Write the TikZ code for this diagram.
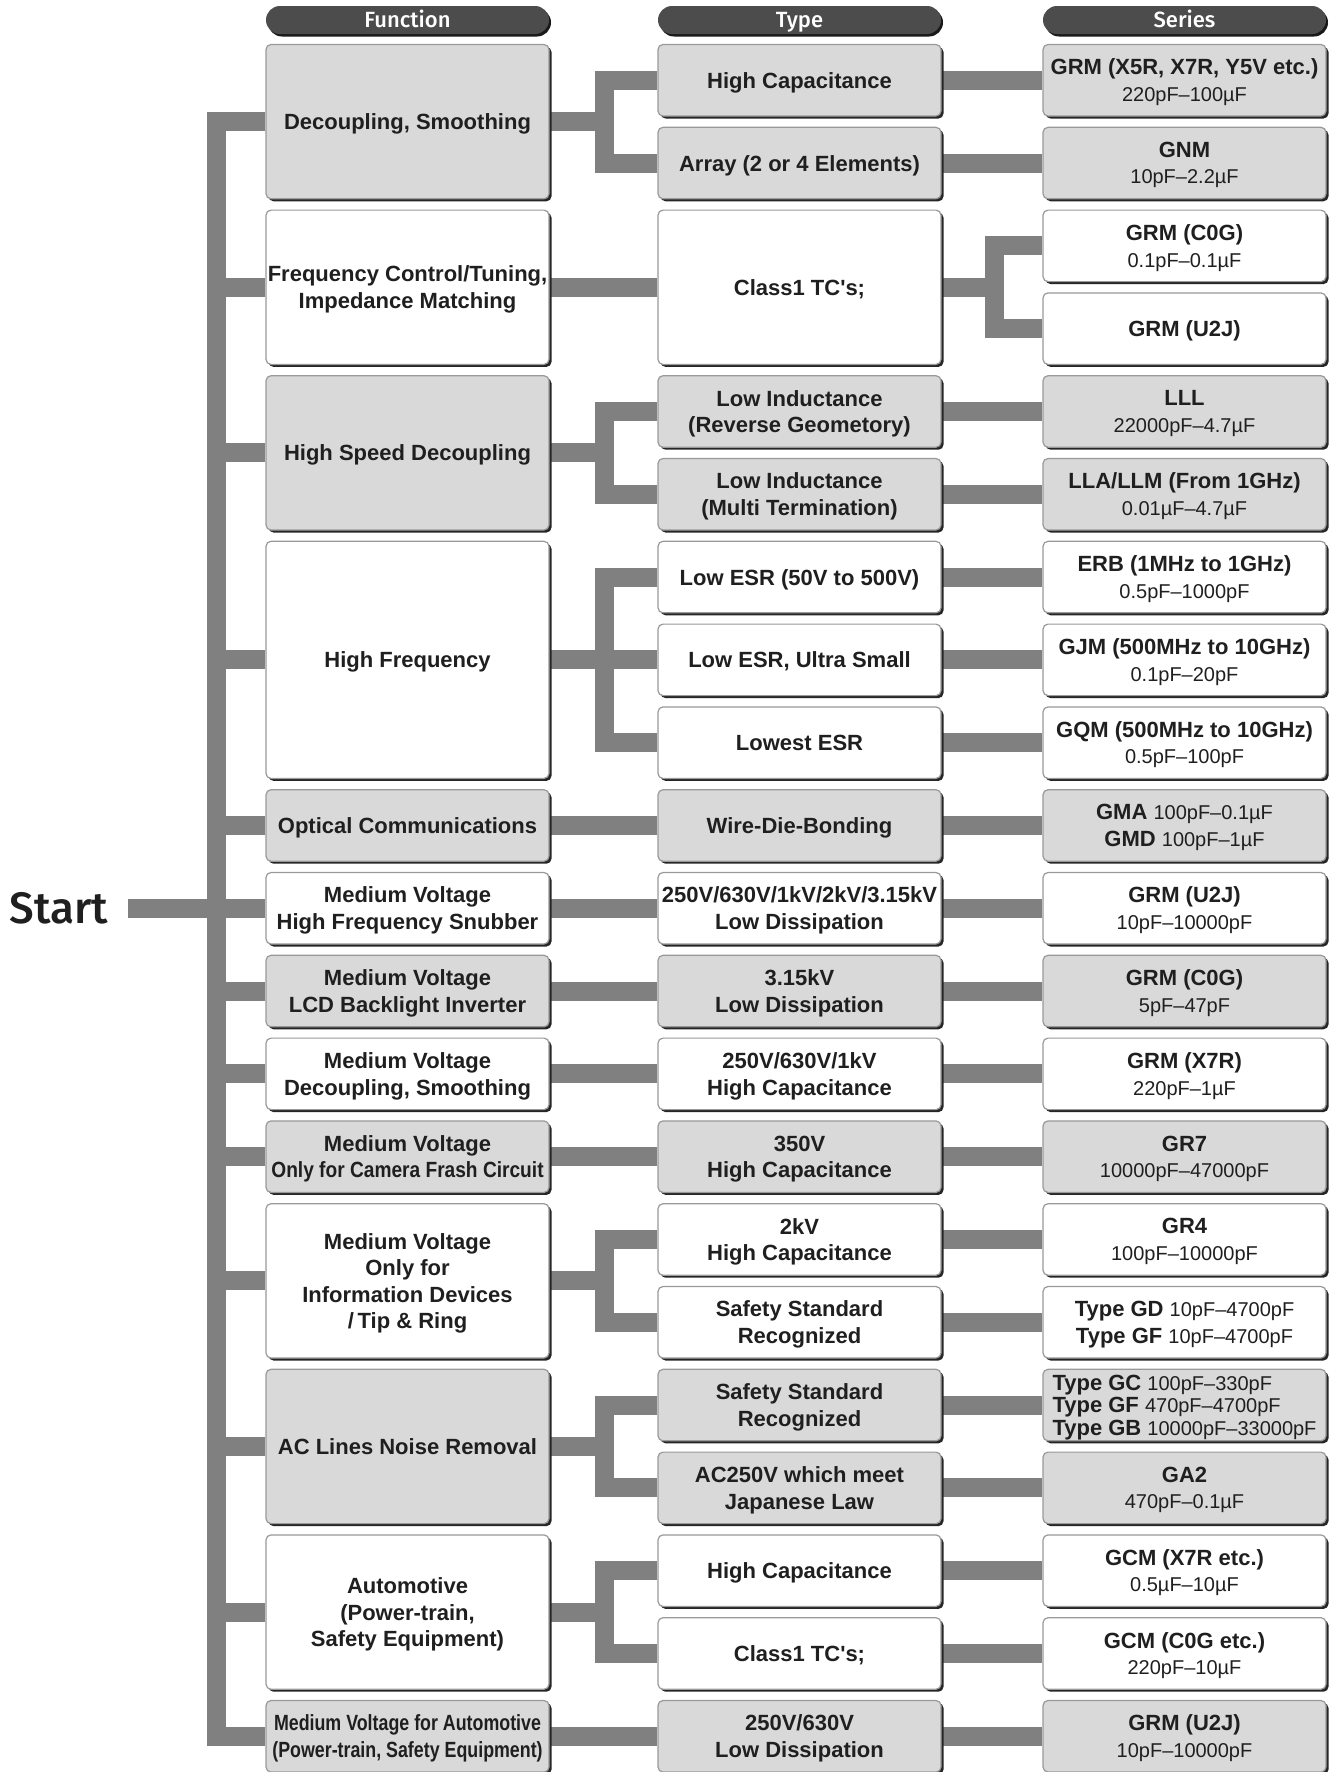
\documentclass[tikz,border=0pt]{standalone}
\usepackage{fontspec}
\usepackage{graphicx}
\setmainfont{Liberation Sans}
\IfFontExistsTF{Fira Sans Medium}
  {\newfontfamily\headfont{Fira Sans Medium}}
  {\newfontfamily\headfont{Fira Sans}[FakeBold=1]}
\usetikzlibrary{shadows,backgrounds}
\newcommand{\capr}[1]{{\fontsize{20}{26.5}\selectfont\mdseries #1}}
\newcommand{\narrowtxt}[2]{\scalebox{#1}[1]{#2}}
\begin{document}
\begin{tikzpicture}[x=1pt,y=-1pt,
  box/.style={draw=black!40, line width=1.2pt, rounded corners=5pt,
    minimum width=283pt, minimum height=71.5pt, align=center, inner sep=1pt,
    text depth=-5pt, text=black!88, font=\bfseries\fontsize{22}{26.5}\selectfont,
    drop shadow={shadow xshift=2.5pt, shadow yshift=-2.5pt, fill=black!85, opacity=1}},
  greybox/.style={box, fill=black!15},
  whitebox/.style={box, fill=white},
  tall2/.style={minimum height=154.3pt},
  tall3/.style={minimum height=237.1pt},
  head/.style={fill=black!70, text=white, rounded corners=14pt, minimum width=283pt,
    minimum height=28pt, inner sep=0pt, text height=15pt, text depth=-6pt,
    font=\headfont\fontsize{22}{22}\selectfont,
    drop shadow={shadow xshift=2pt, shadow yshift=-2.5pt, fill=black!90, opacity=1}},
  link/.style={draw=black!50, line width=19pt}]
\useasboundingbox (0,0) rectangle (1337,1772);
% headers
\node[head] (hfn) at (407.5,20) {Function};
\node[head] (hty) at (799.5,20) {Type};
\node[head] (hse) at (1184.5,20) {Series};
% start
\node[inner xsep=20pt, inner ysep=0pt, text=black!88, font=\headfont\fontsize{44}{44}\selectfont] (start) at (59,908.25) {Start};
\coordinate (trunk) at (216,908.25);
% row 1
\node[greybox, tall2] (fn1) at (407.5,121.65) {Decoupling, Smoothing};
\node[greybox] (ty1a) at (799.5,80.25) {High Capacitance};
\node[greybox] (ty1b) at (799.5,163.05) {Array (2 or 4 Elements)};
\node[greybox] (se1a) at (1184.5,80.25) {GRM (X5R, X7R, Y5V etc.)\\\capr{220pF–100µF}};
\node[greybox] (se1b) at (1184.5,163.05) {GNM\\\capr{10pF–2.2µF}};
% row 2
\node[whitebox, tall2] (fn2) at (407.5,287.25) {Frequency Control/Tuning,\\Impedance Matching};
\node[whitebox, tall2] (ty2) at (799.5,287.25) {Class1 TC\textquotesingle s;};
\node[whitebox] (se2a) at (1184.5,245.85) {GRM (C0G)\\\capr{0.1pF–0.1µF}};
\node[whitebox] (se2b) at (1184.5,328.65) {GRM (U2J)};
% row 3
\node[greybox, tall2] (fn3) at (407.5,452.85) {High Speed Decoupling};
\node[greybox] (ty3a) at (799.5,411.45) {Low Inductance\\(Reverse Geometory)};
\node[greybox] (ty3b) at (799.5,494.25) {Low Inductance\\(Multi Termination)};
\node[greybox] (se3a) at (1184.5,411.45) {LLL\\\capr{22000pF–4.7µF}};
\node[greybox] (se3b) at (1184.5,494.25) {LLA/LLM (From 1GHz)\\\capr{0.01µF–4.7µF}};
% row 4
\node[whitebox, tall3] (fn4) at (407.5,659.85) {High Frequency};
\node[whitebox] (ty4a) at (799.5,577.05) {Low ESR (50V to 500V)};
\node[whitebox] (ty4b) at (799.5,659.85) {Low ESR, Ultra Small};
\node[whitebox] (ty4c) at (799.5,742.65) {Lowest ESR};
\node[whitebox] (se4a) at (1184.5,577.05) {ERB (1MHz to 1GHz)\\\capr{0.5pF–1000pF}};
\node[whitebox] (se4b) at (1184.5,659.85) {GJM (500MHz to 10GHz)\\\capr{0.1pF–20pF}};
\node[whitebox] (se4c) at (1184.5,742.65) {GQM (500MHz to 10GHz)\\\capr{0.5pF–100pF}};
% rows 5 to 9
\node[greybox] (fn5) at (407.5,825.45) {Optical Communications};
\node[greybox] (ty5) at (799.5,825.45) {Wire-Die-Bonding};
\node[greybox] (se5) at (1184.5,825.45) {GMA \capr{100pF–0.1µF}\\GMD \capr{100pF–1µF}};
\node[whitebox] (fn6) at (407.5,908.25) {Medium Voltage\\High Frequency Snubber};
\node[whitebox] (ty6) at (799.5,908.25) {250V/630V/1kV/2kV/3.15kV\\Low Dissipation};
\node[whitebox] (se6) at (1184.5,908.25) {GRM (U2J)\\\capr{10pF–10000pF}};
\node[greybox] (fn7) at (407.5,991.05) {Medium Voltage\\LCD Backlight Inverter};
\node[greybox] (ty7) at (799.5,991.05) {3.15kV\\Low Dissipation};
\node[greybox] (se7) at (1184.5,991.05) {GRM (C0G)\\\capr{5pF–47pF}};
\node[whitebox] (fn8) at (407.5,1073.85) {Medium Voltage\\Decoupling, Smoothing};
\node[whitebox] (ty8) at (799.5,1073.85) {250V/630V/1kV\\High Capacitance};
\node[whitebox] (se8) at (1184.5,1073.85) {GRM (X7R)\\\capr{220pF–1µF}};
\node[greybox] (fn9) at (407.5,1156.65) {Medium Voltage\\\narrowtxt{0.87}{Only for Camera Frash Circuit}};
\node[greybox] (ty9) at (799.5,1156.65) {350V\\High Capacitance};
\node[greybox] (se9) at (1184.5,1156.65) {GR7\\\capr{10000pF–47000pF}};
% row 10
\node[whitebox, tall2] (fn10) at (407.5,1280.85) {Medium Voltage\\Only for\\Information Devices\\/\,Tip \& Ring};
\node[whitebox] (ty10a) at (799.5,1239.45) {2kV\\High Capacitance};
\node[whitebox] (ty10b) at (799.5,1322.25) {Safety Standard\\Recognized};
\node[whitebox] (se10a) at (1184.5,1239.45) {GR4\\\capr{100pF–10000pF}};
\node[whitebox] (se10b) at (1184.5,1322.25) {Type GD \capr{10pF–4700pF}\\Type GF \capr{10pF–4700pF}};
% row 11
\node[greybox, tall2] (fn11) at (407.5,1446.45) {AC Lines Noise Removal};
\node[greybox] (ty11a) at (799.5,1405.05) {Safety Standard\\Recognized};
\node[greybox] (ty11b) at (799.5,1487.85) {AC250V which meet\\Japanese Law};
\node[greybox, align=left, font=\bfseries\fontsize{22}{22.5}\selectfont] (se11a) at (1184.5,1405.05) {Type GC \capr{100pF–330pF}\\Type GF \capr{470pF–4700pF}\\Type GB \capr{10000pF–33000pF}};
\node[greybox] (se11b) at (1184.5,1487.85) {GA2\\\capr{470pF–0.1µF}};
% row 12
\node[whitebox, tall2] (fn12) at (407.5,1612.05) {Automotive\\(Power-train,\\Safety Equipment)};
\node[whitebox] (ty12a) at (799.5,1570.65) {High Capacitance};
\node[whitebox] (ty12b) at (799.5,1653.45) {Class1 TC\textquotesingle s;};
\node[whitebox] (se12a) at (1184.5,1570.65) {GCM (X7R etc.)\\\capr{0.5µF–10µF}};
\node[whitebox] (se12b) at (1184.5,1653.45) {GCM (C0G etc.)\\\capr{220pF–10µF}};
% row 13
\node[greybox] (fn13) at (407.5,1736.25) {\narrowtxt{0.81}{Medium Voltage for Automotive}\\\narrowtxt{0.81}{(Power-train, Safety Equipment)}};
\node[greybox] (ty13) at (799.5,1736.25) {250V/630V\\Low Dissipation};
\node[greybox] (se13) at (1184.5,1736.25) {GRM (U2J)\\\capr{10pF–10000pF}};
% connectors
\begin{pgfonlayer}{background}
\draw[link] (fn1.west) -| (trunk) |- (fn13.west);
\draw[link] (start.east) -- (trunk);
\foreach \i in {2,...,12} \draw[link] (trunk |- fn\i.west) -- (fn\i.west);
\foreach \i/\j in {1/a,1/b,3/a,3/b,4/a,4/c,10/a,10/b,11/a,11/b,12/a,12/b}
  \draw[link] (fn\i.east) -- ++(55,0) |- (ty\i\j.west);
\foreach \i in {2,5,6,7,8,9,13} \draw[link] (fn\i) -- (ty\i);
\draw[link] (fn4) -- (ty4b);
\draw[link] (ty2.east) -- ++(53,0) |- (se2a.west);
\draw[link] (ty2.east) -- ++(53,0) |- (se2b.west);
\foreach \n in {1a,1b,3a,3b,4a,4b,4c,5,6,7,8,9,10a,10b,11a,11b,12a,12b,13}
  \draw[link] (ty\n) -- (se\n);
\end{pgfonlayer}
\end{tikzpicture}
\end{document}
